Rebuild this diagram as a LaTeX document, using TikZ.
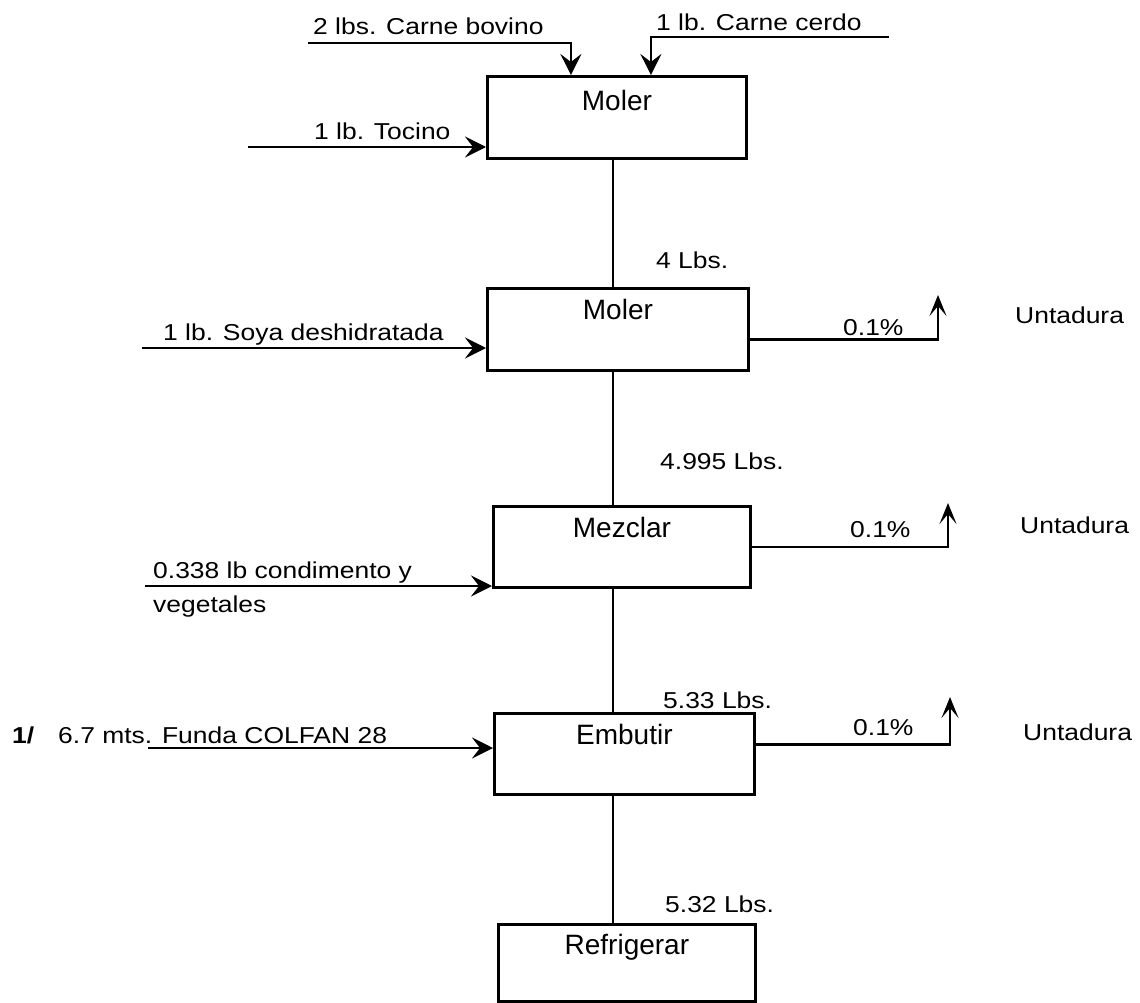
\documentclass[tikz,border=0pt]{standalone}
\usepackage{fontspec}
\setmainfont{Liberation Sans}[FakeStretch=1.15]
\newfontfamily\boxfont{Liberation Sans}
\usetikzlibrary{arrows.meta}

\begin{document}
\begin{tikzpicture}[x=1pt, y=-1pt,
    every node/.style={font=\fontsize{23}{27}\selectfont, inner sep=0pt},
    txt/.style={anchor=base west},
    procbox/.style={draw, line width=2.8pt, anchor=north west, align=center,
      text height=31pt, text depth=50pt,
      font=\boxfont\fontsize{28}{30}\selectfont},
    feed/.style={line width=2.6pt, -{Stealth[length=21pt, width=21pt, inset=8pt]}},
    loss/.style={line width=2.6pt, -{Stealth[length=21pt, width=17pt, inset=10pt]}},
    link/.style={line width=2.6pt}]
  \useasboundingbox (0,0) rectangle (1140,1003);

  % process boxes
  \node[procbox, text width=259pt, text height=34pt, text depth=48pt] (moler1) at (486,75) {Moler};
  \node[procbox, text width=261pt, text depth=51pt] (moler2) at (486,287) {Moler};
  \node[procbox, text width=257pt] (mezclar) at (492,505) {Mezclar};
  \node[procbox, text width=260pt] (embutir) at (493,712) {Embutir};
  \node[procbox, text width=257pt, text height=30pt, text depth=47pt] (refrig) at (497,923) {Refrigerar};

  % main line
  \coordinate (spine) at (613,0);
  \draw[link] (moler1.south -| spine) -- (moler2.north -| spine);
  \draw[link] (moler2.south -| spine) -- (mezclar.north -| spine);
  \draw[link] (mezclar.south -| spine) -- (embutir.north -| spine);
  \draw[link] (embutir.south -| spine) -- (refrig.north -| spine);

  \node[txt] (w1) at (656,268) {4 Lbs.};
  \node[txt] (w2) at (660,469) {4.995 Lbs.};
  \node[txt] (w3) at (663,708) {5.33 Lbs.};
  \node[txt] (w4) at (665,912) {5.32 Lbs.};

  % inputs
  \coordinate (bov) at (308,43);
  \coordinate (cer) at (889,37);
  \coordinate (toc) at (248,147);
  \coordinate (soy) at (142,348);
  \coordinate (con) at (145,586);
  \coordinate (fun) at (148,748);
  \draw[feed] (bov) -| ([xshift=-46pt]moler1.north);
  \draw[feed] (cer) -| ([xshift=34pt]moler1.north);
  \draw[feed] (toc) -- (toc -| moler1.west);
  \draw[feed] (soy) -- (soy -| moler2.west);
  \draw[feed] (con) -- (con -| mezclar.west);
  \draw[feed] (fun) -- (fun -| embutir.west);

  \node[txt] (lbov) at (313,35) {2 lbs. Carne bovino};
  \node[txt] (lcer) at (656,31) {1 lb. Carne cerdo};
  \node[txt] (ltoc) at (314,140) {1 lb. Tocino};
  \node[txt] (lsoy) at (163,340) {1 lb. Soya deshidratada};
  \node[txt] (lcon) at (153,578) {0.338 lb condimento y};
  \node[txt] (lveg) at (153,612) {vegetales};
  \node[txt, font=\fontsize{23}{27}\selectfont\bfseries] (nota) at (12,743) {1/};
  \node[txt] (lfun) at (58,743) {6.7 mts. Funda COLFAN 28};

  % losses
  \foreach \b/\dy/\ux/\uy [count=\i] in {moler2/-10/938/295, mezclar/0/948/503, embutir/9.5/950/697} {
    \coordinate (up\i) at (\ux,\uy);
    \draw[loss] ([yshift=\dy pt]\b.east) -| (up\i);
  }
  \node[txt] (p1) at (843,335) {0.1\%};
  \node[txt] (p2) at (850,537) {0.1\%};
  \node[txt] (p3) at (853,735) {0.1\%};
  \node[txt] (u1) at (1015,323) {Untadura};
  \node[txt] (u2) at (1020,533) {Untadura};
  \node[txt] (u3) at (1023,740) {Untadura};
\end{tikzpicture}
\end{document}
